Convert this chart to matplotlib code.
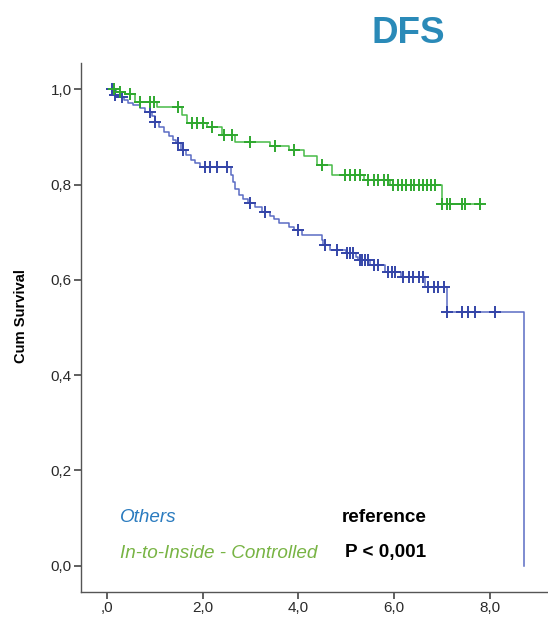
import matplotlib
matplotlib.use("Agg")
import matplotlib.pyplot as plt
from matplotlib.ticker import FixedLocator, FuncFormatter

plt.rcParams['font.family'] = ['Liberation Sans', 'DejaVu Sans']

# Kaplan-Meier steps: (time, survival after event)
others_t = [0.00, 0.12, 0.17, 0.25, 0.35, 0.45, 0.55, 0.70, 0.80, 0.95, 1.00,
            1.10, 1.20, 1.30, 1.39, 1.45, 1.55, 1.65, 1.75, 1.85, 1.95, 2.60,
            2.63, 2.68, 2.75, 2.85, 2.95, 3.10, 3.25, 3.40, 3.50, 3.60, 3.80,
            3.90, 4.07, 4.49, 4.52, 4.65, 5.00, 5.20, 5.24, 5.50, 5.80, 6.15,
            6.65, 7.10, 8.70]
others_s = [1.000, 0.994, 0.989, 0.984, 0.978, 0.972, 0.967, 0.960, 0.953, 0.945, 0.932,
            0.920, 0.910, 0.902, 0.894, 0.887, 0.872, 0.862, 0.852, 0.845, 0.837, 0.820,
            0.805, 0.790, 0.778, 0.770, 0.761, 0.752, 0.743, 0.735, 0.727, 0.719, 0.712,
            0.705, 0.694, 0.683, 0.673, 0.663, 0.656, 0.649, 0.642, 0.631, 0.617, 0.606,
            0.585, 0.533, 0.000]
others_cens = [0.10, 0.17, 0.31, 0.90, 1.01, 1.49, 1.60, 2.05, 2.15, 2.30, 2.51,
               2.99, 3.30, 4.00, 4.56, 4.80, 5.01, 5.08, 5.15, 5.28, 5.32, 5.39,
               5.46, 5.57, 5.67, 5.88, 5.95, 6.02, 6.19, 6.30, 6.40, 6.51, 6.61,
               6.71, 6.82, 6.92, 7.03, 7.10, 7.41, 7.55, 7.69, 8.11]

inside_t = [0.00, 0.20, 0.38, 0.59, 1.04, 1.57, 1.67, 2.10, 2.40, 2.68, 3.41,
            3.80, 4.12, 4.38, 4.70, 5.36, 5.91, 6.99, 7.79]
inside_s = [1.000, 0.995, 0.990, 0.974, 0.962, 0.946, 0.929, 0.920, 0.905, 0.890, 0.880,
            0.872, 0.860, 0.841, 0.820, 0.810, 0.799, 0.759, 0.759]
inside_cens = [0.15, 0.28, 0.49, 0.70, 0.90, 0.99, 1.49, 1.77, 1.88, 2.00, 2.20,
               2.45, 2.62, 2.99, 3.51, 3.90, 4.49, 4.97, 5.08, 5.18, 5.29, 5.46,
               5.57, 5.67, 5.78, 5.88, 5.98, 6.07, 6.16, 6.25, 6.34, 6.42, 6.51,
               6.60, 6.69, 6.77, 6.86, 6.99, 7.10, 7.17, 7.41, 7.48, 7.79]

y_ticks = [0.0, 0.2, 0.4, 0.6, 0.8, 1.0]
x_ticks = [0, 2, 4, 6, 8]

BLUE_LINE = "#5b6cc4"
BLUE_MARK = "#3445a8"
GREEN_LINE = "#48bb48"
GREEN_MARK = "#2fa82f"


def surv_at(times, surv, t):
    s = surv[0]
    for ti, si in zip(times, surv):
        if ti <= t:
            s = si
        else:
            break
    return s


def comma(v):
    return f"{v:.1f}".replace(".", ",")


fig = plt.figure(figsize=(5.48, 6.23), dpi=100)
ax = fig.add_axes([0.1473, 0.0493, 1.0219 - 0.1473, 0.8994 - 0.0493])

ax.step(others_t, others_s, where="post", color=BLUE_LINE, lw=1.1)
ax.step(inside_t, inside_s, where="post", color=GREEN_LINE, lw=1.1)

# censored cases
ax.plot(others_cens, [surv_at(others_t, others_s, t) for t in others_cens],
        ls="none", marker="+", ms=9, mew=1.4, color=BLUE_MARK)
ax.plot(inside_cens, [surv_at(inside_t, inside_s, t) for t in inside_cens],
        ls="none", marker="+", ms=9, mew=1.4, color=GREEN_MARK)

ax.set_xlim(-0.543, 9.46)
ax.set_ylim(-0.056, 1.056)

for side in ("top", "right"):
    ax.spines[side].set_visible(False)
for side in ("left", "bottom"):
    ax.spines[side].set_color("#555555")
    ax.spines[side].set_linewidth(1.0)

ax.xaxis.set_major_locator(FixedLocator(x_ticks))
ax.yaxis.set_major_locator(FixedLocator(y_ticks))
# SPSS drops the leading zero of ",0" on the time axis
ax.xaxis.set_major_formatter(FuncFormatter(lambda v, p: comma(v)[1:] if v == 0 else comma(v)))
ax.yaxis.set_major_formatter(FuncFormatter(lambda v, p: comma(v)))
ax.tick_params(direction="out", length=5, width=1.2, color="#444444",
               labelsize=11, labelcolor="#2a2a2a", pad=1.5)

ax.set_ylabel("Cum Survival", fontsize=10.6, fontweight="bold")
ax.yaxis.set_label_coords(-0.110, 0.522)

fig.text(0.745, 0.947, "DFS", fontsize=26.5, fontweight="bold", color="#2a8ab8",
         ha="center", va="center")

fig.text(120 / 548, 1 - 517 / 623, "Others", fontsize=13.6, style="italic",
         color="#2a7bbf", va="center")
fig.text(120 / 548, 1 - 553 / 623, "In-to-Inside - Controlled", fontsize=13.6,
         style="italic", color="#78b444", va="center")
fig.text(342 / 548, 1 - 517 / 623, "reference", fontsize=13.6, fontweight="bold",
         color="black", va="center")
fig.text(345 / 548, 1 - 553 / 623, "P < 0,001", fontsize=13.6, fontweight="bold",
         color="black", va="center")

fig.savefig("out.png", dpi=100)
